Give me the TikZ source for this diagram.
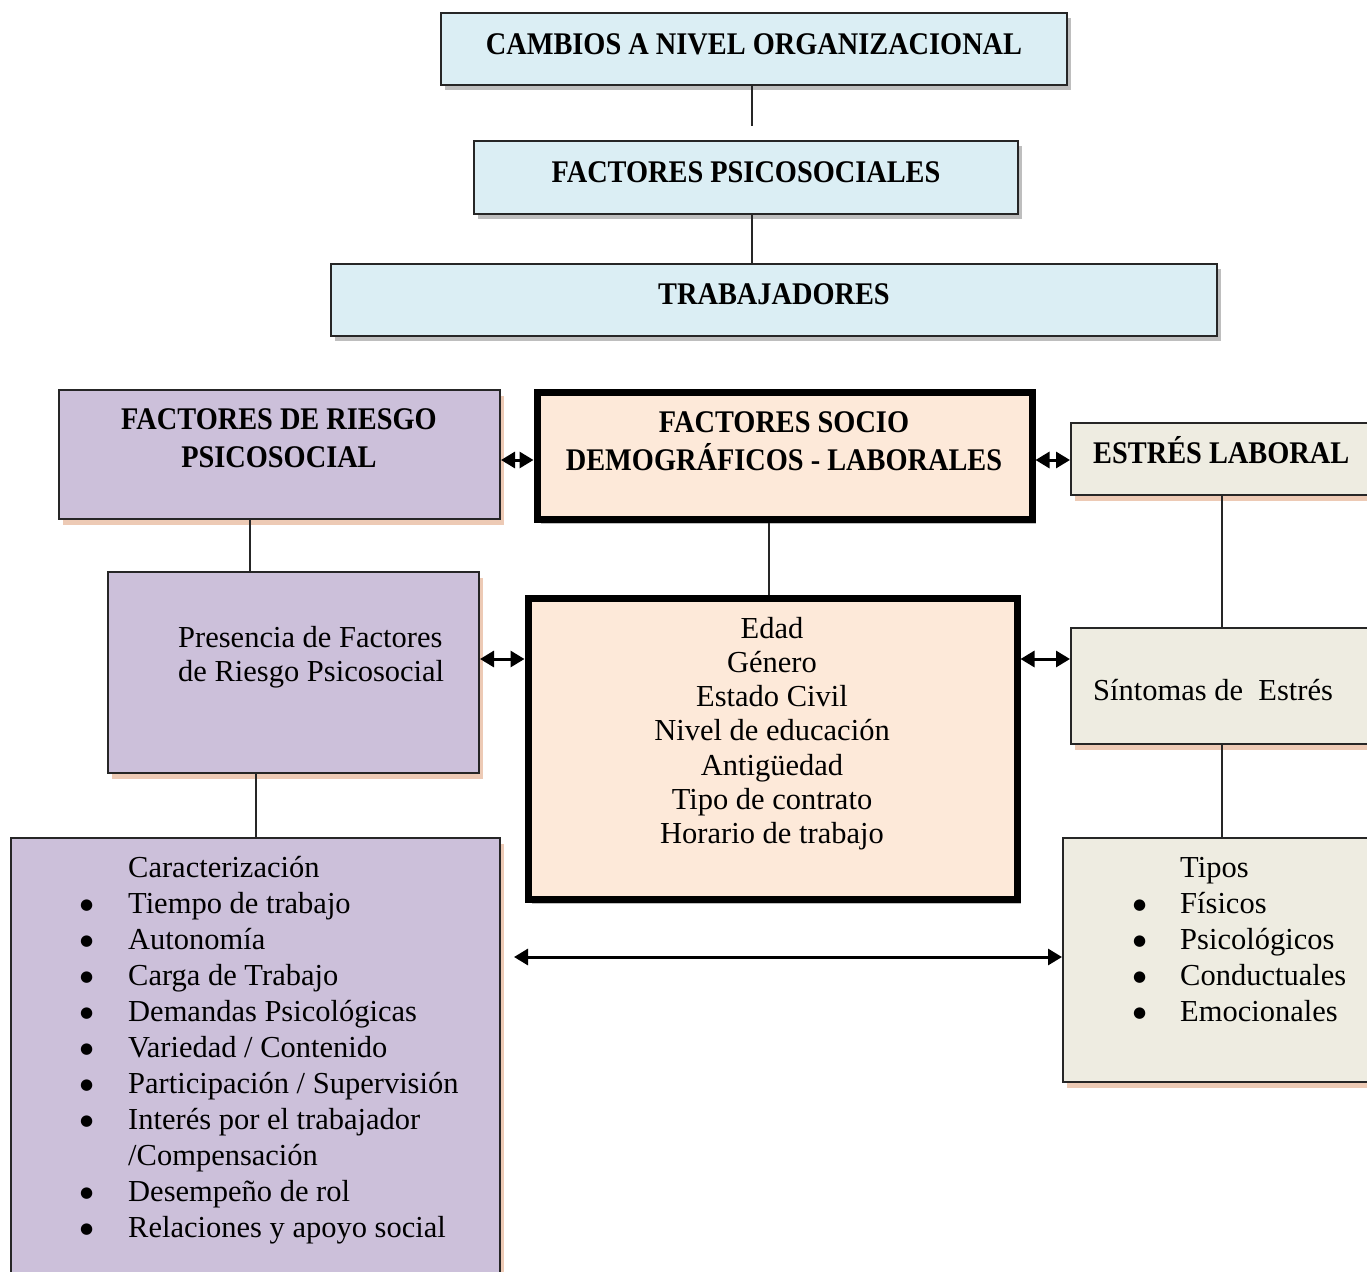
\documentclass[tikz,border=0pt]{standalone}
\usepackage{fontspec}
\setmainfont{Liberation Serif}
\newfontfamily\hfont[FakeStretch=0.9]{Liberation Serif}
\newfontfamily\symf{DejaVu Sans}
\usetikzlibrary{arrows.meta,shadows}
\definecolor{cblue}{HTML}{DBEEF4}
\definecolor{cpurple}{HTML}{CCC0DA}
\definecolor{cpeach}{HTML}{FDE9D9}
\definecolor{cbeige}{HTML}{EEECE1}
\definecolor{shgray}{HTML}{6F6F6F}
\definecolor{shorange}{HTML}{E0A07A}
\newcommand\myhd{\hfont\bfseries\fontsize{31.5}{38}\selectfont}
\newcommand\mybody{\fontsize{30.5}{36}\selectfont}
\newcommand\mybul{\raisebox{4pt}{\symf\fontsize{15}{15}\selectfont ●}}
\begin{document}
\begin{tikzpicture}[x=1pt,y=-1pt,
  box/.style={draw=black!85, line width=2pt, rectangle, inner sep=0pt},
  thickbox/.style={box, draw=black, line width=7pt},
  graysh/.style={drop shadow={shadow xshift=4pt, shadow yshift=-5pt, fill=shgray, opacity=.45}},
  orsh/.style={drop shadow={shadow xshift=4pt, shadow yshift=-6pt, fill=shorange, opacity=.55}},
  conn/.style={draw=black!85, line width=1.5pt},
  dbl/.style={{Triangle[length=14pt,width=16pt]}-{Triangle[length=14pt,width=16pt]}, line width=3pt, draw=black},
  hd/.style={font=\myhd, inner sep=0pt},
  bodytxt/.style={font=\mybody, inner sep=0pt}
]
\useasboundingbox (0,0) rectangle (1367,1271);
\clip (0,0) rectangle (1367,1271);
\fill[white] (0,0) rectangle (1367,1271);

% boxes
\node[box, fill=cblue, graysh, minimum width=626pt, minimum height=72pt] (b1) at (754,49) {};
\node[box, fill=cblue, graysh, minimum width=544pt, minimum height=73pt] (b2) at (746,177.5) {};
\node[box, fill=cblue, graysh, minimum width=886pt, minimum height=72pt] (b3) at (774,300) {};
\node[box, fill=cpurple, orsh, minimum width=441pt, minimum height=129pt] (b4) at (279.5,454.5) {};
\node[thickbox, fill=cpeach, graysh, minimum width=495pt, minimum height=127pt] (b5) at (784.5,455.5) {};
\node[box, fill=cbeige, orsh, minimum width=319pt, minimum height=72pt] (b6) at (1230.5,459) {};
\node[box, fill=cpurple, orsh, minimum width=371pt, minimum height=201pt] (b7) at (293.5,672.5) {};
\node[thickbox, fill=cpeach, graysh, minimum width=489pt, minimum height=301pt] (b8) at (772.5,748.5) {};
\node[box, fill=cbeige, orsh, minimum width=319pt, minimum height=116pt] (b9) at (1230.5,686) {};
\node[box, fill=cbeige, orsh, minimum width=327pt, minimum height=244pt] (b10) at (1226.5,960) {};
\node[box, fill=cpurple, orsh, minimum width=489pt, minimum height=452pt] (b11) at (255.5,1064) {};

% texts
\node[hd, anchor=base] (t1) at (754,55) {CAMBIOS A NIVEL ORGANIZACIONAL};
\node[hd, anchor=base] (t2) at (746,182) {FACTORES PSICOSOCIALES};
\node[hd, anchor=base] (t3) at (774,304) {TRABAJADORES};
\node[hd, anchor=base] (t4) at (279,429) {\begin{tabular}[t]{@{}c@{}}FACTORES DE RIESGO\\PSICOSOCIAL\end{tabular}};
\node[hd, anchor=base] (t5) at (784,432) {\begin{tabular}[t]{@{}c@{}}FACTORES SOCIO\\DEMOGRÁFICOS - LABORALES\end{tabular}};
\node[hd, anchor=base west] (t6) at (1093,463) {ESTRÉS LABORAL};
\node[bodytxt, anchor=base west, font=\fontsize{30.5}{34}\selectfont] (t7) at (178,647) {\begin{tabular}[t]{@{}l@{}}Presencia de Factores\\de Riesgo Psicosocial\end{tabular}};
\node[bodytxt, anchor=base, font=\fontsize{30.5}{34.3}\selectfont] (t8) at (772,638) {\begin{tabular}[t]{@{}c@{}}Edad\\Género\\Estado Civil\\Nivel de educación\\Antigüedad\\Tipo de contrato\\Horario de trabajo\end{tabular}};
\node[bodytxt, anchor=base west] (t9) at (1093,700) {Síntomas de\ \ Estrés};
\node[bodytxt, anchor=base west] (t10) at (1133,877) {\begin{tabular}[t]{@{}p{47pt}@{}l@{}}
 & Tipos\\
\mybul & Físicos\\
\mybul & Psicológicos\\
\mybul & Conductuales\\
\mybul & Emocionales
\end{tabular}};
\node[bodytxt, anchor=base west] (t11) at (80,877) {\begin{tabular}[t]{@{}p{48pt}@{}l@{}}
 & Caracterización\\
\mybul & Tiempo de trabajo\\
\mybul & Autonomía\\
\mybul & Carga de Trabajo\\
\mybul & Demandas Psicológicas\\
\mybul & Variedad / Contenido\\
\mybul & Participación / Supervisión\\
\mybul & Interés por el trabajador\\
 & /Compensación\\
\mybul & Desempeño de rol\\
\mybul & Relaciones y apoyo social
\end{tabular}};

% helper coordinates
\coordinate (c12) at (752,126);
\coordinate (xA) at (752,0);
\coordinate (yA) at (0,460);
\coordinate (xB) at (769,0);
\coordinate (yB) at (0,659);
\coordinate (xC) at (1222,0);
\coordinate (xD) at (250,0);
\coordinate (xE) at (256,0);
\coordinate (yC) at (0,957);

% connectors
\draw[conn] (b1.south -| c12) -- (c12);
\draw[conn] (b2.south -| xA) -- (b3.north -| xA);
\draw[conn] (b4.south -| xD) -- (b7.north -| xD);
\draw[conn] (b7.south -| xE) -- (b11.north -| xE);
\draw[conn] (b5.south -| xB) -- (b8.north -| xB);
\draw[conn] (b6.south -| xC) -- (b9.north -| xC);
\draw[conn] (b9.south -| xC) -- (b10.north -| xC);
\draw[dbl] (b4.east |- yA) -- (b5.west |- yA);
\draw[dbl] (b5.east |- yA) -- (b6.west |- yA);
\draw[dbl] (b7.east |- yB) -- (b8.west |- yB);
\draw[dbl] (b8.east |- yB) -- (b9.west |- yB);
\draw[dbl, shorten <=13pt] (b11.east |- yC) -- (b10.west |- yC);
\end{tikzpicture}
\end{document}
